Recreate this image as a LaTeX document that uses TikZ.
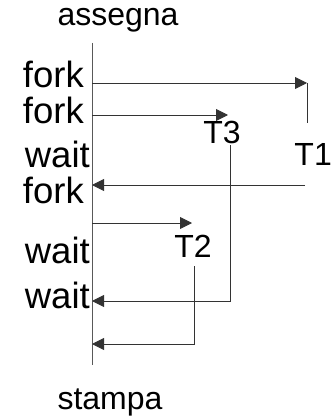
\documentclass[tikz,border=0pt]{standalone}
\usepackage{fontspec}
\setmainfont{Liberation Sans}
\usetikzlibrary{arrows.meta,positioning}

\begin{document}
\begin{tikzpicture}[x=1pt,y=-1pt,every node/.style={inner sep=0pt},lbl/.style={font=\fontsize{36.5}{42}\selectfont,anchor=base east},thr/.style={font=\fontsize{32}{38}\selectfont,anchor=base},ttl/.style={font=\fontsize{32}{38}\selectfont,anchor=base},line/.style={black!80,line width=0.9pt},arrow/.style={-{Triangle[length=12pt,width=12pt]},line}]
\useasboundingbox (0,0) rectangle (332,417);
\node[ttl] (assegna) at (118,26) {assegna};
\node[ttl] (stampa) at (110,409) {stampa};
\coordinate (top) at (92,43); \coordinate (bot) at (92,365);
\draw[line,black!65] (top)--(bot);
\node[lbl] (fork1) at (84,88) {fork};
\node[lbl] (fork2) at (84,123) {fork};
\node[lbl] (wait1) at (90,167) {wait};
\node[lbl] (fork3) at (84,203) {fork};
\node[lbl] (wait2) at (90,263) {wait};
\node[lbl] (wait3) at (90,308) {wait};
% thread nodes
\node[thr,anchor=base east] (t1) at (332,165) {T1};
\node[thr] (t3) at (222,143) {T3};
\node[thr] (t2) at (193,257) {T2};
\coordinate (f1) at (92,83); \coordinate (t1a) at (307,83); \coordinate (t1b) at (307,123);
\coordinate (t1c) at (305,185); \coordinate (w1) at (92,185);
\coordinate (f2) at (92,115); \coordinate (t3a) at (228,115);
\coordinate (t3b) at (230,145); \coordinate (t3c) at (230,301); \coordinate (w3) at (92,301);
\coordinate (f3) at (92,223); \coordinate (t2a) at (192,223);
\coordinate (t2b) at (194,266); \coordinate (t2c) at (194,344); \coordinate (w2) at (92,344);
\draw[arrow] (f1)--(t1a); \draw[line] (t1a)--(t1b); \draw[arrow] (t1c)--(w1);
\draw[arrow] (f2)--(t3a); \draw[arrow] (t3b)--(t3c)--(w3);
\draw[arrow] (f3)--(t2a); \draw[arrow] (t2b)--(t2c)--(w2);
\end{tikzpicture}
\end{document}
